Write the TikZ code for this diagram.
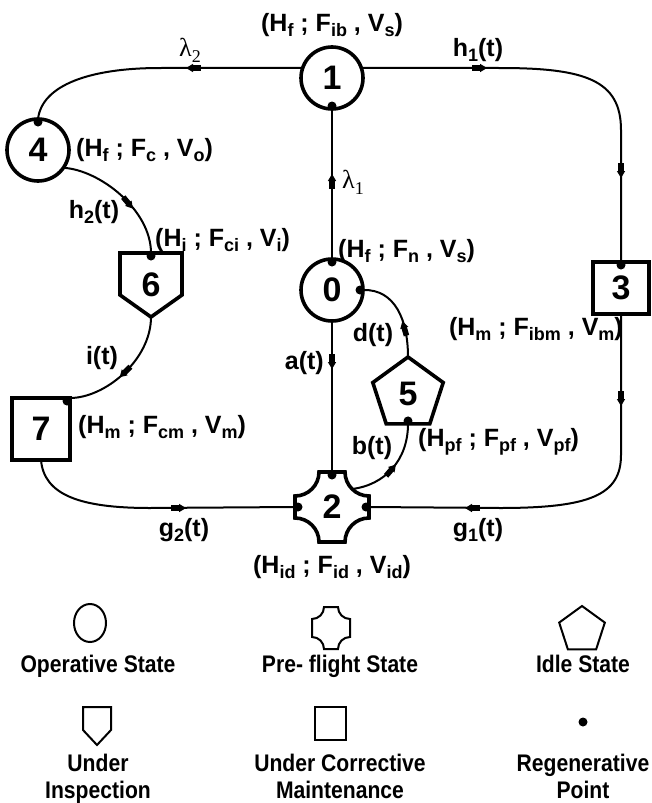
\documentclass[tikz,border=0pt]{standalone}
\usepackage{fontspec}
\setmainfont{Liberation Sans}
\newfontfamily\lserif{Liberation Serif}
\newfontfamily\legfam[FakeStretch=0.88]{Liberation Sans}
\usetikzlibrary{shapes.geometric,calc}
\newcommand\sbs[1]{\raisebox{-0.22em}{\fontsize{18}{18}\selectfont #1}}
\newcommand\numfont{\fontsize{34}{34}\selectfont\bfseries}
\newcommand\labfont{\fontsize{25}{28}\selectfont\bfseries}
\newcommand\legfont{\legfam\fontsize{24}{27}\selectfont\bfseries}
\newcommand\lamfont{\lserif\fontsize{26}{28}\selectfont}
\newcommand\flowarr[2]{%
  \fill[shift={#1},rotate=#2] (-9,-2.8) rectangle (-0.5,2.8);
  \fill[shift={#1},rotate=#2] (6,0) -- (-1,-4.2) -- (-1,4.2) -- cycle;}
\begin{document}
\begin{tikzpicture}[x=1pt,y=-1pt,
  circ/.style={circle,draw,line width=3.6pt,minimum size=62pt,inner sep=0pt,outer sep=0pt,font=\numfont},
  box/.style={rectangle,draw,line width=3.6pt,inner sep=0pt,outer sep=0pt,font=\numfont},
  ghost/.style={inner sep=0pt,outer sep=0pt,font=\numfont},
  thickshape/.style={line width=3.6pt,line join=miter},
  conn/.style={line width=2pt},
  rdot/.style={radius=4.5},
  lab/.style={font=\labfont,inner sep=0pt},
  lam/.style={font=\lamfont,inner sep=0pt},
  leg/.style={font=\legfont,inner sep=0pt,anchor=base},
  legshape/.style={line width=2pt,line join=miter}]
\fill[white] (0,0) rectangle (651,803);
\useasboundingbox (0,0) rectangle (651,803);

% ---- state nodes
\node[circ] (n1) at (332,78) {1};
\node[circ] (n4) at (38,150) {4};
\node[circ] (n0) at (332,290) {0};
\node[box,minimum width=56pt,minimum height=52pt] (n3) at (621,288) {3};
\node[box,minimum width=58pt,minimum height=62pt] (n7) at (41,429) {7};
\node[regular polygon,regular polygon sides=5,draw,line width=3.6pt,minimum size=74pt,inner sep=0pt,outer sep=0pt,font=\numfont] (n5) at (408,394) {5};
\node[ghost,minimum width=62pt,minimum height=64pt] (n6) at (151,285) {6};
\draw[thickshape] (n6.north west) -- (n6.north east) -- ($(n6.east)+(0,10)$) -- (n6.south) -- ($(n6.west)+(0,10)$) -- cycle;
\node[ghost,minimum width=74pt,minimum height=70pt] (n2) at (332,507) {2};
\draw[thickshape] (319,472) -- (345,472) arc[start angle=180,end angle=90,radius=24]
  -- (369,518) arc[start angle=270,end angle=180,radius=24]
  -- (319,542) arc[start angle=360,end angle=270,radius=24]
  -- (295,496) arc[start angle=90,end angle=0,radius=24] -- cycle;

% ---- connectors
\draw[conn] (n1.161) -- (160,68) .. controls (90,68) and (42,85) .. (n4.north);
\draw[conn] (n1.19) -- (500,68) .. controls (585,68) and (621,80) .. (621,130) -- (n3.north);
\draw[conn] (n0.north) -- (n1.south);
\draw[conn] (n0.south) -- (n2.north);
\draw[conn] (n5.corner 1) .. controls (408,320) and (395,289) .. (n0.east);
\draw[conn] ($(n2.north east)+(-17,17)$) .. controls (385,485) and (408,460) .. (n5.side 3);
\draw[conn] (n3.south) -- (621,455) .. controls (621,495) and (590,508) .. (500,508) -- (n2.east);
\draw[conn] (n7.south) .. controls (44,495) and (80,508) .. (150,508) -- (n2.west);
\draw[conn] (n4.-35) .. controls (100,170) and (151,210) .. (n6.north);
\draw[conn] (n6.south) .. controls (151,360) and (105,398) .. (n7.north east);

% ---- arrow marks
\flowarr{(192,68)}{180}
\flowarr{(481,68)}{0}
\flowarr{(621,172)}{-90}
\flowarr{(332,180)}{90}
\flowarr{(332,363)}{-90}
\flowarr{(404,327)}{106}
\flowarr{(392,469)}{49}
\flowarr{(621,400)}{-90}
\flowarr{(471,508)}{180}
\flowarr{(180,508)}{0}
\flowarr{(129,204)}{-50}
\flowarr{(124,373)}{-136}

% ---- regenerative points
\fill[rdot] ($(n1.south)+(0,-3)$) circle;
\fill[rdot] ($(n4.north)+(0,3)$) circle;
\fill[rdot] ($(n3.north)+(0,3)$) circle;
\fill[rdot] ($(n6.north)+(0,3)$) circle;
\fill[rdot] ($(n7.north east)+(-3,3)$) circle;
\fill[rdot] ($(n0.north)+(0,3)$) circle;
\fill[rdot] ($(n0.east)+(-3,0)$) circle;
\fill[rdot] ($(n5.side 3)+(0,-3)$) circle;
\fill[rdot] ($(n2.north)+(0,3)$) circle;
\fill[rdot] ($(n2.west)+(3,0)$) circle;
\fill[rdot] ($(n2.east)+(-3,0)$) circle;

% ---- labels
\node[lab] (L1) at (332,25) {(H\sbs{f} ; F\sbs{ib} , V\sbs{s})};
\node[lam] (lam2) at (190,50) {λ\sbs{2}};
\node[lab] (h1) at (478,50) {h\sbs{1}(t)};
\node[lab,anchor=west] (L4) at (76,150) {(H\sbs{f} ; F\sbs{c} , V\sbs{o})};
\node[lam,anchor=west] (lam1) at (342,182) {λ\sbs{1}};
\node[lab] (h2) at (94,212) {h\sbs{2}(t)};
\node[lab,anchor=west] (L6) at (155,240) {(H\sbs{i} ; F\sbs{ci} , V\sbs{i})};
\node[lab,anchor=west] (L0) at (338,251) {(H\sbs{f} ; F\sbs{n} , V\sbs{s})};
\node[lab,anchor=east] (L3) at (623,329) {(H\sbs{m} ; F\sbs{ibm} , V\sbs{m})};
\node[lab] (dt) at (373,335) {d(t)};
\node[lab] (it) at (102,358) {i(t)};
\node[lab,anchor=east] (at) at (324,363) {a(t)};
\node[lab,anchor=west] (L7) at (78,427) {(H\sbs{m} ; F\sbs{cm} , V\sbs{m})};
\node[lab] (bt) at (372,448) {b(t)};
\node[lab,anchor=west] (L5) at (418,442) {(H\sbs{pf} ; F\sbs{pf} , V\sbs{pf})};
\node[lab] (g2) at (184,530) {g\sbs{2}(t)};
\node[lab] (g1) at (478,530) {g\sbs{1}(t)};
\node[lab] (L2) at (332,567) {(H\sbs{id} ; F\sbs{id} , V\sbs{id})};

% ---- legend
\draw[legshape] (90,623) ellipse[x radius=16,y radius=19];
\draw[legshape] (324,607) -- (338,607) arc[start angle=180,end angle=90,radius=12]
  -- (350,637) arc[start angle=270,end angle=180,radius=12]
  -- (324,649) arc[start angle=360,end angle=270,radius=12]
  -- (312,619) arc[start angle=90,end angle=0,radius=12] -- cycle;
\node[regular polygon,regular polygon sides=5,draw,legshape,minimum size=48pt,inner sep=0pt] (lgp) at (582,630) {};
\draw[legshape] (83,707) -- (111,707) -- (111,730) -- (97,745) -- (83,730) -- cycle;
\draw[legshape] (315,707) rectangle (346,740);
\fill[rdot] (583,722) circle;
\node[leg] (t1) at (98,672) {Operative State};
\node[leg] (t2) at (340,672) {Pre- flight State};
\node[leg] (t3) at (583,672) {Idle State};
\node[leg] (t4a) at (98,771) {Under};
\node[leg] (t4b) at (98,798) {Inspection};
\node[leg] (t5a) at (340,771) {Under Corrective};
\node[leg] (t5b) at (340,798) {Maintenance};
\node[leg] (t6a) at (583,771) {Regenerative};
\node[leg] (t6b) at (583,798) {Point};
\end{tikzpicture}
\end{document}
